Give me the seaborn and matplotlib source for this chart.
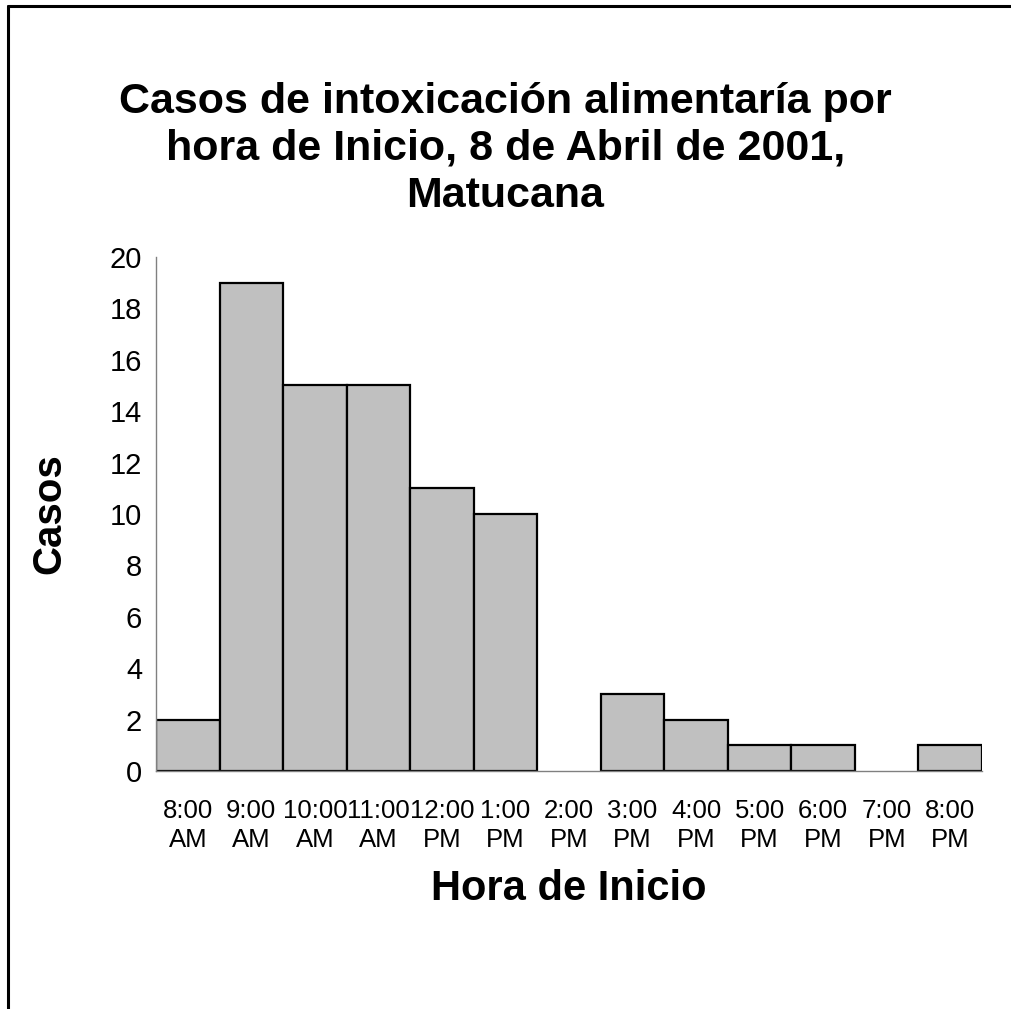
import matplotlib
matplotlib.use("Agg")
import matplotlib.pyplot as plt
from matplotlib.lines import Line2D
import seaborn as sns
import pandas as pd

horas = ["8:00\nAM", "9:00\nAM", "10:00\nAM", "11:00\nAM", "12:00\nPM", "1:00\nPM",
         "2:00\nPM", "3:00\nPM", "4:00\nPM", "5:00\nPM", "6:00\nPM", "7:00\nPM", "8:00\nPM"]
casos = [2, 19, 15, 15, 11, 10, 0, 3, 2, 1, 1, 0, 1]

df = pd.DataFrame({"hora": horas, "casos": casos})

sns.set_style("white")
plt.rcParams["font.family"] = ["Liberation Sans", "DejaVu Sans"]
plt.rcParams["text.color"] = "black"
plt.rcParams["axes.labelcolor"] = "black"

fig = plt.figure(figsize=(10.11, 10.09), dpi=100)
ax = fig.add_axes([156 / 1011, 1 - 771 / 1009, (982 - 156) / 1011, (771 - 257) / 1009])

sns.barplot(data=df, x="hora", y="casos", color="#c0c0c0", width=1.0,
            edgecolor="black", linewidth=1.6, saturation=1, ax=ax)
# no borde para las barras vacias
for p in ax.patches:
    if p.get_height() == 0:
        p.set_linewidth(0)

ax.set_xlim(-0.5, len(horas) - 0.5)
ax.set_ylim(0, 20)
ax.set_yticks(range(0, 21, 2))
ax.tick_params(axis="y", labelsize=21, length=7, color="#808080", width=1, pad=3,
               labelcolor="black")
ax.tick_params(axis="x", which="major", labelsize=18.5, length=0, pad=20,
               labelcolor="black")
for t in ax.get_xticklabels():
    t.set_linespacing(1.3)
ax.set_xticks([i - 0.5 for i in range(len(horas) + 1)], minor=True)
ax.tick_params(axis="x", which="minor", length=7, color="#808080", width=1)

for s in ["top", "right"]:
    ax.spines[s].set_visible(False)
for s in ["left", "bottom"]:
    ax.spines[s].set_color("#808080")
    ax.spines[s].set_linewidth(1)

ax.set_xlabel("Hora de Inicio", fontsize=30, fontweight="bold", labelpad=12)
ax.set_ylabel("Casos", fontsize=29, fontweight="bold", labelpad=30)

fig.text(0.5, 1 - 82 / 1009,
         "Casos de intoxicación alimentaría por\nhora de Inicio, 8 de Abril de 2001,\nMatucana",
         ha="center", va="top", fontsize=31, fontweight="bold", linespacing=1.22)

# marco del grafico
fig.add_artist(Line2D([8 / 1011, 8 / 1011], [0, 1 - 6 / 1009], color="black", lw=2.2))
fig.add_artist(Line2D([8 / 1011, 1], [1 - 6 / 1009, 1 - 6 / 1009], color="black", lw=2.2))

fig.savefig("out.png", dpi=100)
